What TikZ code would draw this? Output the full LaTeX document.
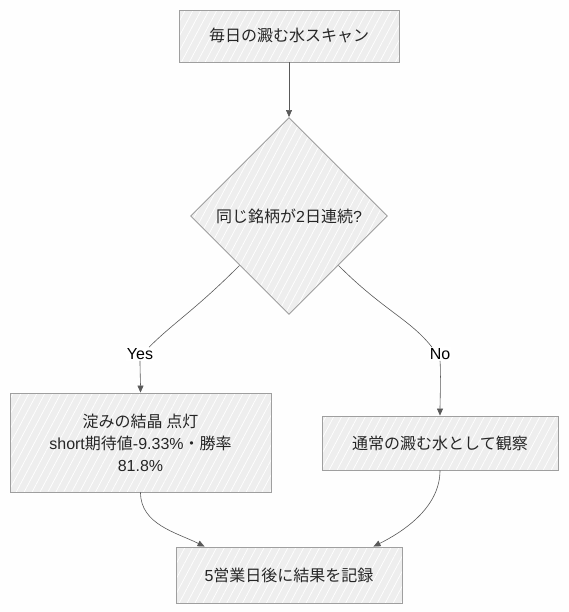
\documentclass[tikz,border=0pt]{standalone}
\usepackage{fontspec}
\setmainfont{Liberation Sans}
\newfontfamily\cjk{Noto Sans CJK JP}
\usetikzlibrary{shapes.geometric,arrows.meta,patterns.meta}

\begin{document}
\begin{tikzpicture}[x=1pt,y=-1pt,
  hachure/.style={preaction={fill=gray!13},pattern={Lines[angle=62,distance=7pt,line width=0.7pt]},pattern color=white},
  stepbox/.style={draw=gray!75,line width=0.9pt,hachure,rectangle,inner sep=0pt,align=center,text=black!85,font=\fontsize{16}{22}\selectfont},
  decision/.style={stepbox,diamond,aspect=1},
  line/.style={draw=black!65,line width=0.6pt},
  edge/.style={line,-{Triangle[length=7pt,width=6pt]}},
  lbl/.style={fill=white,inner sep=1pt,text=black,font=\fontsize{16}{20}\selectfont}]
  \useasboundingbox (0,0) rectangle (569,612);
  \fill[white!99!gray] (0,0) rectangle (569,612);
  \node[stepbox,minimum width=220,minimum height=52] (scan) at (289,36) {{\cjk 毎日の澱む水スキャン}};
  \node[decision,minimum width=197,minimum height=197] (twoday) at (289,216) {{\cjk 同じ銘柄が}2{\cjk 日連続}?};
  \node[stepbox,minimum width=261,minimum height=99] (lit) at (140.5,442.5) {{\cjk 淀みの結晶 点灯}\\short{\cjk 期待値}-9.33\%{\cjk ・勝率}\\81.8\%};
  \node[stepbox,minimum width=236,minimum height=54] (watch) at (440,443) {{\cjk 通常の澱む水として観察}};
  \node[stepbox,minimum width=226,minimum height=56] (record) at (289,575) {5{\cjk 営業日後に結果を記録}};
  \node[lbl] (yes) at (140,354) {Yes};
  \node[lbl] (no) at (440,354) {No};
  \draw[edge] (scan) -- (twoday);
  \draw[line] (twoday.south west) .. controls +(-45,45) and +(25,-25) .. ([xshift=9pt]yes.north);
  \draw[edge] (yes.south) .. controls +(0,8) and +(0,-8) .. (lit.north);
  \draw[line] (twoday.south east) .. controls +(45,45) and +(-22,-28) .. ([xshift=-8pt]no.north);
  \draw[edge] (no.south) .. controls +(1,12) and +(0,-12) .. (watch.north);
  \draw[edge] (lit.south) .. controls +(0,32) and +(-28,-14) .. ([xshift=29pt]record.north west);
  \draw[edge] (watch.south) .. controls +(0,38) and +(28,-14) .. ([xshift=-29pt]record.north east);
\end{tikzpicture}
\end{document}
